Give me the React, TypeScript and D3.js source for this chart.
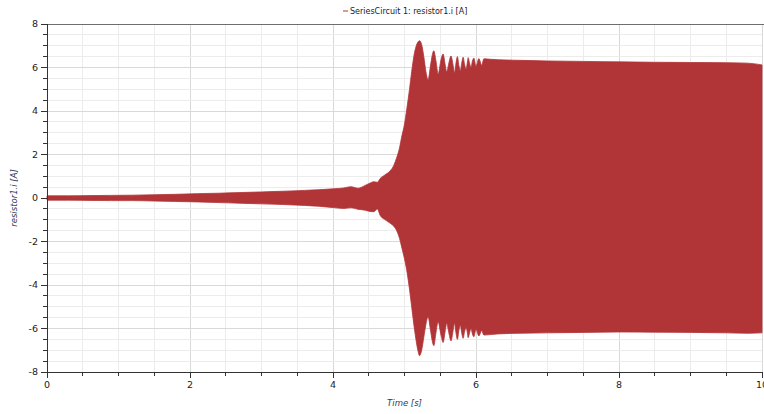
import React from "react";
import * as d3 from "d3";

const W = 764;
const H = 414;

const seriesName = "SeriesCircuit 1: resistor1.i [A]";
const xLabel = "Time [s]";
const yLabel = "resistor1.i [A]";

const xTicks = [0, 2, 4, 6, 8, 10];
const yTicks = [-8, -6, -4, -2, 0, 2, 4, 6, 8];

// envelope of the oscillating current
const time = [
  0.0, 0.3, 0.6, 0.9, 1.2, 1.5, 1.8, 2.1, 2.4, 2.7, 3.0, 3.3, 3.6, 3.8, 4.0,
  4.15, 4.25, 4.35, 4.45, 4.52, 4.57, 4.62, 4.66, 4.72, 4.8, 4.85, 4.89, 4.93,
  4.96, 5.0, 5.03, 5.07, 5.1, 5.13, 5.16, 5.19, 5.21, 5.24, 5.27, 5.3, 5.33,
  5.36, 5.39, 5.41, 5.44, 5.47, 5.51, 5.54, 5.57, 5.59, 5.62, 5.65, 5.68, 5.7,
  5.72, 5.74, 5.76, 5.78, 5.8, 5.82, 5.84, 5.86, 5.88, 5.89, 5.91, 5.93, 5.95,
  5.97, 6.0, 6.04, 6.08, 6.11, 6.2, 6.3, 6.6, 7.0, 7.5, 8.0, 8.5, 9.0, 9.5,
  9.8, 10.0,
];
const upperEnv = [
  0.1, 0.1, 0.11, 0.12, 0.13, 0.15, 0.17, 0.2, 0.22, 0.25, 0.28, 0.31, 0.35,
  0.38, 0.42, 0.46, 0.52, 0.45, 0.58, 0.69, 0.75, 0.72, 0.9, 1.05, 1.25, 1.5,
  1.85, 2.3, 2.8, 3.4, 4.05, 5.0, 5.8, 6.5, 6.95, 7.18, 7.23, 7.05, 6.5, 5.8,
  5.43, 6.0, 6.6, 6.77, 6.3, 5.7, 6.35, 6.62, 6.1, 5.8, 6.2, 6.53, 6.1, 5.76,
  6.2, 6.5, 6.1, 5.85, 6.2, 6.47, 6.15, 5.92, 6.25, 6.45, 6.2, 6.0, 6.3, 6.43,
  6.05, 6.41, 6.1, 6.4, 6.38, 6.36, 6.33, 6.3, 6.28, 6.26, 6.24, 6.23, 6.22,
  6.2, 6.12,
];
const lowerEnv = [
  -0.1, -0.1, -0.11, -0.12, -0.12, -0.14, -0.16, -0.18, -0.21, -0.24, -0.27,
  -0.3, -0.34, -0.38, -0.44, -0.48, -0.45, -0.52, -0.56, -0.62, -0.63, -0.5,
  -0.8, -0.98, -1.16, -1.3, -1.5, -1.85, -2.25, -2.8, -3.3, -4.2, -5.0, -5.8,
  -6.5, -7.05, -7.25, -7.0, -6.4, -5.8, -5.46, -6.0, -6.6, -6.79, -6.2, -5.69,
  -6.3, -6.64, -6.1, -5.76, -6.2, -6.57, -6.1, -5.76, -6.2, -6.5, -6.1, -5.85,
  -6.2, -6.45, -6.15, -5.95, -6.2, -6.42, -6.2, -6.0, -6.25, -6.38, -6.05,
  -6.34, -6.1, -6.3, -6.28, -6.25, -6.22, -6.2, -6.18, -6.16, -6.17, -6.18,
  -6.2, -6.22, -6.2,
];

const FONT = "'DejaVu Sans', 'Liberation Sans', sans-serif";

export default function App() {
  const left = 47;
  const right = 762;
  const top = 24;
  const bottom = 372;
  const x = d3.scaleLinear().domain([0, 10]).range([left, right]);
  const y = d3.scaleLinear().domain([-8, 8]).range([bottom, top]);

  const xMinor = d3.range(0, 10.001, 0.5);
  const yMinor = d3.range(-8, 8.001, 0.5);

  const pts = time.map((t, i) => ({ t, hi: upperEnv[i], lo: lowerEnv[i] }));
  const area = d3
    .area<{ t: number; hi: number; lo: number }>()
    .x((d) => x(d.t))
    .y0((d) => y(d.lo))
    .y1((d) => y(d.hi))
    .curve(d3.curveMonotoneX);

  const color = "#b13437";

  return (
    <div style={{ position: "fixed", left: 0, top: 0, width: W, height: H, background: "#fff" }}>
      <svg width={W} height={H} style={{ display: "block" }} fontFamily={FONT}>
        <rect x={0} y={0} width={W} height={H} fill="#fff" />
        {/* grid */}
        {xMinor.map((v) => (
          <line key={"gx" + v} x1={x(v)} x2={x(v)} y1={top} y2={bottom} stroke={v % 2 === 0 ? "#d9d9d9" : "#ececec"} strokeWidth={1} shapeRendering="crispEdges" />
        ))}
        {yMinor.map((v) => (
          <line key={"gy" + v} x1={left} x2={right} y1={y(v)} y2={y(v)} stroke={v % 2 === 0 ? "#d9d9d9" : "#ececec"} strokeWidth={1} shapeRendering="crispEdges" />
        ))}
        {/* top border */}
        <line x1={left} x2={W} y1={top} y2={top} stroke="#6e6e6e" strokeWidth={1} shapeRendering="crispEdges" />
        {/* data */}
        <path d={area(pts) || ""} fill={color} stroke={color} strokeWidth={0.8} strokeLinejoin="round" />
        {/* axes */}
        <line x1={left} x2={left} y1={top} y2={bottom} stroke="#333" strokeWidth={1} shapeRendering="crispEdges" />
        <line x1={left} x2={right} y1={bottom} y2={bottom} stroke="#333" strokeWidth={1} shapeRendering="crispEdges" />
        {yMinor.map((v) => (
          <line key={"ty" + v} x1={left - (v % 2 === 0 ? 6 : 4)} x2={left} y1={y(v)} y2={y(v)} stroke="#333" strokeWidth={1} shapeRendering="crispEdges" />
        ))}
        {xMinor.map((v) => (
          <line key={"tx" + v} x1={x(v)} x2={x(v)} y1={bottom} y2={bottom + (v % 2 === 0 ? 6 : 4)} stroke="#333" strokeWidth={1} shapeRendering="crispEdges" />
        ))}
        {yTicks.map((v) => (
          <text key={"ly" + v} x={left - 9} y={y(v)} dy="0.35em" textAnchor="end" fontSize={9.5} fill="#222">
            {v}
          </text>
        ))}
        {xTicks.map((v) => (
          <text key={"lx" + v} x={x(v)} y={bottom + 16} textAnchor="middle" fontSize={9.5} fill="#222">
            {v}
          </text>
        ))}
        <text x={(left + right) / 2} y={406} textAnchor="middle" fontSize={8.5} fontStyle="italic" fill="#2f3b55">
          {xLabel}
        </text>
        <text transform={`translate(17,${y(0)}) rotate(-90)`} textAnchor="middle" fontSize={8.5} fontStyle="italic" fill="#2f3b55">
          {yLabel}
        </text>
        {/* legend */}
        <line x1={343} x2={348} y1={11} y2={11} stroke={color} strokeWidth={1} />
        <text x={350} y={14} fontSize={8} fill="#222">
          {seriesName}
        </text>
      </svg>
    </div>
  );
}
